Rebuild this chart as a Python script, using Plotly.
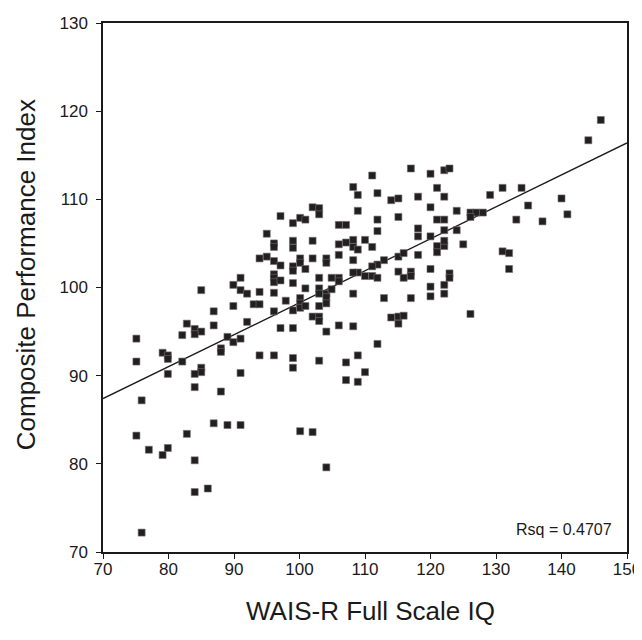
import plotly.graph_objects as go

# WAIS-R Full Scale IQ (x) and Composite Performance Index (y)
iq = [
    86.9, 82.8, 86.9, 84.0, 85.0, 84.0, 82.1, 75.1, 89.0, 88.0, 88.0, 79.1, 79.9, 79.9, 75.1, 82.1,
    85.0, 85.0, 84.0, 79.9, 84.0, 88.0, 75.9, 86.9, 89.0, 75.1, 82.8, 77.0, 79.9, 79.1, 84.0, 84.0,
    86.0, 75.9, 85.0,
    108.2, 108.9, 102.0, 103.0, 103.0, 108.9, 97.1, 100.1, 100.9, 99.0, 106.0, 107.1, 95.0, 96.1,
    96.1, 99.0, 99.0, 102.0, 106.0, 107.1, 108.2, 108.2, 108.9, 106.0, 108.2, 93.9, 95.0, 96.1, 97.1,
    100.1, 100.1, 102.0, 104.1, 104.1, 99.0, 99.0, 100.9, 108.9, 108.2, 96.1, 96.1, 96.1, 97.1, 91.0,
    89.9, 91.0, 92.0, 93.9, 96.1, 99.0, 100.9, 103.0, 104.9, 106.0, 106.0, 103.0, 103.0, 104.1, 104.1,
    104.9, 108.2, 89.9, 93.0, 93.9, 97.9, 100.1, 100.1, 100.1, 100.9, 99.0, 96.1, 103.0, 104.1, 102.0,
    103.0, 103.0, 92.0, 106.0, 108.2, 97.1, 99.0, 104.1, 89.9, 91.0,
    93.9, 96.1, 99.0, 99.0, 103.0, 107.1, 108.9, 91.0, 107.1, 108.9, 91.0, 100.1, 102.0, 104.1,
    117.0, 120.0, 122.1, 122.9, 111.1, 111.9, 114.0, 115.1, 118.1, 121.0, 122.1, 111.9, 115.1, 120.0,
    121.0, 122.1, 124.0, 126.1, 127.0, 128.0, 126.1, 111.9, 118.1, 118.1, 120.0, 122.1, 124.0, 110.0,
    111.1, 121.0, 122.1, 121.0, 122.1, 125.0, 112.9, 111.9, 111.1, 115.1, 115.9, 118.1, 110.0, 111.1,
    111.9, 115.1, 115.9, 117.0, 117.0, 120.0, 122.9, 122.9, 120.0, 122.1, 112.9, 117.0, 120.0, 122.1,
    126.1, 114.0, 115.1, 115.9, 115.1, 111.9, 110.0,
    146.0, 144.1, 129.1, 131.0, 133.9, 140.0, 134.9, 140.9, 133.1, 137.1, 131.0, 132.0, 132.0,
]
cpi = [
    97.3, 95.9, 95.7, 95.3, 95.0, 94.7, 94.6, 94.2, 94.4, 93.1, 92.7, 92.6, 92.3, 91.9, 91.6, 91.6,
    90.9, 90.4, 90.2, 90.2, 88.7, 88.2, 87.2, 84.6, 84.4, 83.2, 83.4, 81.6, 81.8, 81.0, 80.4, 76.8,
    77.2, 72.2, 99.7,
    111.4, 110.5, 109.1, 109.0, 108.3, 108.7, 108.1, 107.9, 107.7, 107.3, 107.1, 107.1, 106.1, 105.0,
    104.6, 105.3, 104.5, 105.3, 104.9, 105.1, 105.4, 104.6, 104.3, 103.7, 103.1, 103.3, 103.5, 103.0, 102.5,
    103.3, 102.8, 103.3, 103.3, 102.8, 102.4, 101.9, 102.1, 101.7, 101.7, 101.5, 101.1, 100.6, 100.8, 101.1,
    100.3, 99.7, 99.3, 99.5, 99.4, 100.5, 99.9, 101.1, 101.1, 101.1, 100.7, 99.9, 99.3, 99.3, 98.9,
    99.8, 99.3, 97.9, 98.1, 98.1, 98.5, 98.8, 98.2, 97.7, 97.9, 97.4, 97.3, 97.9, 98.2, 96.7,
    96.7, 96.2, 96.1, 95.7, 95.6, 95.4, 95.4, 95.0, 93.8, 94.2,
    92.3, 92.3, 92.0, 90.9, 91.7, 91.5, 92.3, 90.3, 89.5, 89.3, 84.4, 83.7, 83.6, 79.6,
    113.5, 112.9, 113.3, 113.5, 112.7, 110.7, 109.9, 110.1, 110.3, 111.3, 110.3, 107.7, 108.0, 109.1,
    107.7, 107.7, 108.7, 108.5, 108.5, 108.5, 108.0, 106.4, 106.7, 105.8, 105.8, 106.5, 106.5, 105.4,
    104.6, 104.7, 104.7, 104.0, 105.3, 104.9, 103.1, 102.6, 102.4, 103.5, 103.9, 103.7, 101.3, 101.3,
    101.1, 101.8, 101.1, 101.8, 101.3, 102.1, 101.6, 101.1, 100.1, 100.3, 98.8, 98.8, 99.0, 99.3,
    97.0, 96.6, 96.7, 96.8, 95.9, 93.6, 90.4,
    119.0, 116.7, 110.5, 111.3, 111.3, 110.1, 109.3, 108.3, 107.7, 107.5, 104.1, 103.9, 102.1,
]

# Fitted regression line, as drawn in the reference
fit_x = [70, 150]
fit_y = [87.4, 116.4]
rsq_label = "Rsq = 0.4707"
x_title = "WAIS-R Full Scale IQ"
y_title = "Composite Performance Index"

x_ticks = [70, 80, 90, 100, 110, 120, 130, 140, 150]
y_ticks = [70, 80, 90, 100, 110, 120, 130]

FONT = "Liberation Sans, Arial, sans-serif"
INK = "#1a1a1a"

fig = go.Figure()
fig.add_trace(go.Scatter(
    x=fit_x, y=fit_y, mode="lines",
    line=dict(color=INK, width=1.3),
    showlegend=False, hoverinfo="skip",
))
fig.add_trace(go.Scatter(
    x=iq, y=cpi, mode="markers",
    marker=dict(symbol="square", size=7, color="#231f20",
                line=dict(color="#707070", width=0.6)),
    showlegend=False,
))

axis_common = dict(
    showgrid=False, zeroline=False, automargin=False,
    showline=True, linecolor=INK, linewidth=1.5, mirror=True,
    ticks="outside", ticklen=5, tickwidth=1.3, tickcolor=INK,
    tickfont=dict(family=FONT, size=17, color=INK),
    ticklabeloverflow="allow",
)

# the page adds an 8px body margin; margins are set so the plot box lands where the reference has it
fig.update_layout(
    width=642, height=622,
    paper_bgcolor="white", plot_bgcolor="white",
    margin=dict(l=94.5, r=23, t=14.5, b=77.5),
    xaxis=dict(range=[70, 150], tickvals=x_ticks, ticklabelstandoff=-4, **axis_common),
    yaxis=dict(range=[70, 130], tickvals=y_ticks, ticklabelstandoff=5, **axis_common),
    annotations=[
        dict(text=rsq_label, xref="paper", yref="paper", x=0.975, y=0.042,
             xanchor="right", yanchor="middle", showarrow=False,
             font=dict(family=FONT, size=16, color=INK)),
        dict(text=x_title, xref="paper", yref="paper", x=0.51, y=-0.112,
             xanchor="center", yanchor="middle", showarrow=False,
             font=dict(family=FONT, size=26, color=INK)),
        dict(text=y_title, xref="paper", yref="paper", x=-0.148, y=0.524,
             xanchor="center", yanchor="middle", showarrow=False, textangle=-90,
             font=dict(family=FONT, size=26, color=INK)),
    ],
)

fig.write_html("out.html")
